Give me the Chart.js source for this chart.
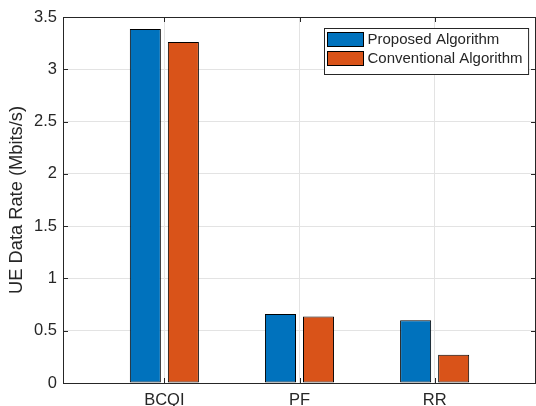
<!DOCTYPE html>
<html>
<head>
<meta charset="utf-8">
<script src="https://cdn.jsdelivr.net/npm/chart.js@4/dist/chart.umd.min.js"></script>
<style>
  html, body { margin: 0; padding: 0; background: #ffffff; }
  #wrap { width: 536px; height: 406px; position: relative; }
</style>
</head>
<body>
<div id="wrap"><canvas id="c" width="536" height="406"></canvas></div>
<script>
// Scheduling schemes on the horizontal axis
const categories = ['BCQI', 'PF', 'RR'];
// Average UE data rate per scheme (Mbits/s)
const proposedRates = [3.385, 0.66, 0.60];
const conventionalRates = [3.26, 0.635, 0.27];
const seriesNames = ['Proposed Algorithm', 'Conventional Algorithm'];
const yTicks = [0, 0.5, 1, 1.5, 2, 2.5, 3, 3.5];

const FONT = '"Liberation Sans", Arial, Helvetica, sans-serif';
const INK = '#262626';
const GRID = '#e3e3e3';

const positions = categories.map((_, i) => i + 1);
const toPoints = vals => vals.map((v, i) => ({ x: positions[i], y: v }));

// Box outline, inward tick marks and an in-plot legend
const boxPlugin = {
  id: 'boxAndLegend',
  afterDraw(chart) {
    const { ctx, chartArea: a, scales } = chart;
    const tl = 5;
    ctx.save();
    ctx.strokeStyle = INK;
    ctx.lineWidth = 1;
    ctx.beginPath();
    // top and right edges
    ctx.moveTo(a.left, a.top + 0.5); ctx.lineTo(a.right, a.top + 0.5);
    ctx.moveTo(a.right - 0.5, a.top); ctx.lineTo(a.right - 0.5, a.bottom);
    // x ticks (bottom and top)
    positions.forEach(p => {
      const x = Math.round(scales.x.getPixelForValue(p)) + 0.5;
      ctx.moveTo(x, a.bottom); ctx.lineTo(x, a.bottom - tl);
      ctx.moveTo(x, a.top); ctx.lineTo(x, a.top + tl);
    });
    // y ticks (left and right)
    yTicks.forEach(v => {
      const y = Math.round(scales.y.getPixelForValue(v)) + 0.5;
      ctx.moveTo(a.left, y); ctx.lineTo(a.left + tl, y);
      ctx.moveTo(a.right, y); ctx.lineTo(a.right - tl, y);
    });
    ctx.stroke();

    // legend
    ctx.font = '15px ' + FONT;
    const sw = 36, sh = 14, rowH = 19, padX = 3;
    const textW = Math.max(...chart.data.datasets.map(d => ctx.measureText(d.label).width));
    const boxW = padX + sw + 4 + textW + 6;
    const boxH = 4 + rowH * chart.data.datasets.length + 4;
    const bx = Math.round(a.right - 8 - boxW) + 0.5;
    const by = Math.round(a.top + 11) + 0.5;
    ctx.fillStyle = '#ffffff';
    ctx.fillRect(bx, by, boxW, boxH);
    ctx.strokeStyle = INK;
    ctx.strokeRect(bx, by, boxW, boxH);
    chart.data.datasets.forEach((d, i) => {
      const sy = by + 4 + i * rowH;
      ctx.fillStyle = d.backgroundColor;
      ctx.fillRect(bx + padX, sy, sw, sh);
      ctx.strokeStyle = '#000000';
      ctx.strokeRect(bx + padX, sy, sw, sh);
      ctx.fillStyle = INK;
      ctx.textBaseline = 'middle';
      ctx.textAlign = 'left';
      ctx.fillText(d.label, bx + padX + sw + 4, sy + sh / 2 + 0.5);
    });
    ctx.restore();
  }
};

const barStyle = {
  borderColor: '#000000',
  borderWidth: 1,
  borderSkipped: false,
  categoryPercentage: 0.563,
  barPercentage: 0.816
};

new Chart(document.getElementById('c'), {
  type: 'bar',
  data: {
    datasets: [
      Object.assign({ label: seriesNames[0], data: toPoints(proposedRates), backgroundColor: '#0072BD' }, barStyle),
      Object.assign({ label: seriesNames[1], data: toPoints(conventionalRates), backgroundColor: '#D95319' }, barStyle)
    ]
  },
  options: {
    responsive: false,
    animation: false,
    devicePixelRatio: 1,
    layout: { padding: { top: 17, right: 0, left: 0, bottom: 0 } },
    plugins: {
      legend: { display: false },
      tooltip: { enabled: false }
    },
    scales: {
      x: {
        type: 'linear',
        offset: false,
        min: 0.25,
        max: 3.75,
        afterBuildTicks(scale) {
          scale.ticks = positions.map(v => ({ value: v }));
        },
        afterFit(scale) { scale.height = 23; },
        ticks: {
          autoSkip: false,
          maxRotation: 0,
          padding: 8,
          color: INK,
          font: { family: FONT, size: 16.5 },
          callback: v => categories[v - 1] ?? ''
        },
        grid: { color: GRID, drawTicks: false, offset: false, lineWidth: 1 },
        border: { color: INK, width: 1 }
      },
      y: {
        min: 0,
        max: 3.5,
        afterBuildTicks(scale) {
          scale.ticks = yTicks.map(v => ({ value: v }));
        },
        afterFit(scale) { scale.width = 63; },
        ticks: {
          padding: 6,
          color: INK,
          font: { family: FONT, size: 16.5 },
          callback: v => String(v)
        },
        grid: { color: GRID, drawTicks: false, lineWidth: 1 },
        border: { color: INK, width: 1 },
        title: {
          display: true,
          text: 'UE Data Rate (Mbits/s)',
          color: INK,
          font: { family: FONT, size: 18.3 },
          padding: { top: 6, bottom: 0 }
        }
      }
    }
  },
  plugins: [boxPlugin]
});
</script>
</body>
</html>
